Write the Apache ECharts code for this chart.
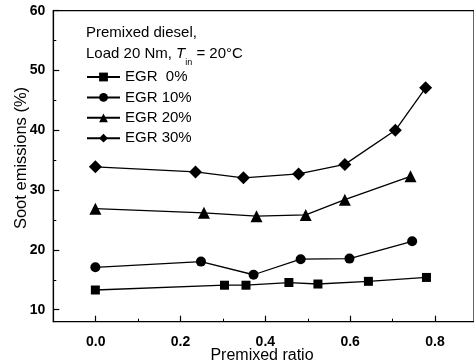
<!DOCTYPE html>
<html>
<head>
<meta charset="utf-8">
<script src="https://cdn.jsdelivr.net/npm/echarts@6/dist/echarts.min.js"></script>
<style>html,body{margin:0;padding:0;background:#fff}#c{width:474px;height:362px}</style>
</head>
<body>
<div id="c"></div>
<script>
// ---- data ----
const seriesNames = ['EGR  0%', 'EGR 10%', 'EGR 20%', 'EGR 30%'];
const egr0X  = [0.0, 0.307, 0.358, 0.46, 0.529, 0.649, 0.787];
const egr0Y  = [13.3, 14.1, 14.1, 14.55, 14.3, 14.75, 15.4];
const egr10X = [0.0, 0.251, 0.376, 0.488, 0.604, 0.753];
const egr10Y = [17.1, 18.05, 15.85, 18.45, 18.55, 21.45];
const egr20X = [0.0, 0.258, 0.383, 0.5, 0.593, 0.749];
const egr20Y = [26.9, 26.2, 25.65, 25.85, 28.4, 32.3];
const egr30X = [0.0, 0.238, 0.352, 0.483, 0.593, 0.713, 0.785];
const egr30Y = [33.9, 33.05, 32.05, 32.7, 34.3, 40.0, 47.1];
// tick ranges (labelled ticks) and axis extents
const xTickRange = [0.0, 0.8];   // labels 0.0 ... 0.8, step 0.2
const yTickRange = [10, 60];     // labels 10 ... 60, step 10
const xExtent = [-0.1, 0.9];
const yExtent = [8, 60];

const zip = (xs, ys) => xs.map((x, i) => [x, ys[i]]);
const FONT = '"Liberation Sans", Arial, Helvetica, sans-serif';
const symbols = ['rect', 'circle', 'triangle', 'diamond'];
const sizes = [9, 10, 12, 13];
const dataSets = [zip(egr0X, egr0Y), zip(egr10X, egr10Y), zip(egr20X, egr20Y), zip(egr30X, egr30Y)];

// plot geometry
const W = 474, H = 362;
const L = 53.3, T = 10.7, B = 40.3, R = -3.4;
const plotW = W - L - R, plotH = H - T - B;
const px = v => L + (v - xExtent[0]) / (xExtent[1] - xExtent[0]) * plotW;
const py = v => T + (yExtent[1] - v) / (yExtent[1] - yExtent[0]) * plotH;

const hidden = {show: false};
const labelStyle = {color: '#000', fontSize: 14, fontWeight: 'bold', fontFamily: FONT};

const chart = echarts.init(document.getElementById('c'), null, {renderer: 'canvas'});
chart.setOption({
  animation: false,
  backgroundColor: '#fff',
  grid: [
    {left: L, top: T, bottom: B, right: R, show: true, borderColor: '#000', borderWidth: 1.2},
    // tick grid for y (same vertical scale, spans 10..60)
    {left: L, right: R, top: py(yTickRange[1]), bottom: H - py(yTickRange[0])},
    // tick grid for x (same horizontal scale, spans 0..0.8)
    {left: px(xTickRange[0]), right: W - px(xTickRange[1]), top: T, bottom: B}
  ],
  xAxis: [
    {gridIndex: 0, type: 'value', min: xExtent[0], max: xExtent[1], splitLine: hidden,
     axisLine: {show: true, onZero: false, lineStyle: {color: '#000', width: 1.2}},
     axisTick: hidden, axisLabel: hidden},
    {gridIndex: 1, type: 'value', show: false},
    {gridIndex: 2, type: 'value', min: xTickRange[0], max: xTickRange[1], interval: 0.2, position: 'bottom', splitLine: hidden,
     axisLine: {show: false, onZero: false},
     axisTick: {show: true, inside: true, length: 6, lineStyle: {color: '#000', width: 1.2}},
     axisLabel: Object.assign({show: true, margin: 13, formatter: v => v.toFixed(1)}, labelStyle)},
    {gridIndex: 2, type: 'value', min: xTickRange[0], max: xTickRange[1], interval: 0.1, position: 'bottom', splitLine: hidden,
     axisLine: {show: false, onZero: false},
     axisTick: {show: true, inside: true, length: 3, lineStyle: {color: '#000', width: 1}},
     axisLabel: hidden}
  ],
  yAxis: [
    {gridIndex: 0, type: 'value', min: yExtent[0], max: yExtent[1], splitLine: hidden,
     axisLine: {show: true, onZero: false, lineStyle: {color: '#000', width: 1.2}},
     axisTick: hidden, axisLabel: hidden},
    {gridIndex: 1, type: 'value', min: yTickRange[0], max: yTickRange[1], interval: 10, position: 'left', splitLine: hidden,
     axisLine: {show: false, onZero: false},
     axisTick: {show: true, inside: true, length: 6, lineStyle: {color: '#000', width: 1.2}},
     axisLabel: Object.assign({show: true, margin: 8}, labelStyle)},
    {gridIndex: 1, type: 'value', min: yTickRange[0], max: yTickRange[1], interval: 5, position: 'left', splitLine: hidden,
     axisLine: {show: false, onZero: false},
     axisTick: {show: true, inside: true, length: 3, lineStyle: {color: '#000', width: 1}},
     axisLabel: hidden},
    {gridIndex: 2, type: 'value', show: false}
  ],
  legend: {
    orient: 'vertical', left: 86, top: 69.5, itemWidth: 33, itemHeight: 11, itemGap: 5.4,
    data: seriesNames,
    textStyle: {color: '#000', fontSize: 15, fontFamily: FONT, lineHeight: 15},
    padding: 0
  },
  graphic: [
    {type: 'text', left: 86, top: 25, style: {text: 'Premixed diesel,', fill: '#000', font: '15px ' + FONT}},
    {type: 'text', left: 86, top: 46, style: {
      text: '{n|Load 20 Nm, }{i|T}{s|in}{n| = 20°C}',
      rich: {
        n: {fontSize: 15, fontFamily: FONT, fill: '#000', lineHeight: 18, verticalAlign: 'top'},
        i: {fontSize: 15, fontFamily: FONT, fontStyle: 'italic', fill: '#000', lineHeight: 18, verticalAlign: 'top'},
        s: {fontSize: 9, fontFamily: FONT, fill: '#000', lineHeight: 18, verticalAlign: 'bottom', padding: [0, 0, -3, 0]}
      }}},
    {type: 'text', x: 262, y: 355.5, style: {text: 'Premixed ratio', fill: '#000', font: '16px ' + FONT, align: 'center', verticalAlign: 'middle'}},
    {type: 'text', x: 21, y: 158, rotation: Math.PI / 2, style: {text: 'Soot emissions (%)', fill: '#000', font: '16.5px ' + FONT, align: 'center', verticalAlign: 'middle'}}
  ],
  series: dataSets.map((d, i) => ({
    name: seriesNames[i], type: 'line', data: d, xAxisIndex: 0, yAxisIndex: 0,
    symbol: symbols[i], symbolSize: sizes[i], showSymbol: true,
    lineStyle: {color: '#000', width: 1.3},
    itemStyle: {color: '#000'},
    color: '#000'
  }))
});
</script>
</body>
</html>
